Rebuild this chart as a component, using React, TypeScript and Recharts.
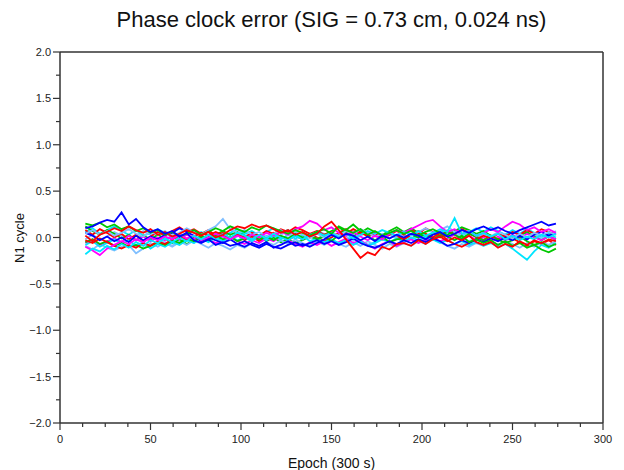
import { LineChart, Line, XAxis, YAxis, ReferenceLine } from "recharts";

// epochs sampled every 4 (300 s) steps
const epochs = [
  14, 18, 22, 26, 30, 34, 38, 42, 46, 50, 54,
  58, 62, 66, 70, 74, 78, 82, 86, 90, 94, 98,
  102, 106, 110, 114, 118, 122, 126, 130, 134, 138, 142,
  146, 150, 154, 158, 162, 166, 170, 174, 178, 182, 186,
  190, 194, 198, 202, 206, 210, 214, 218, 222, 226, 230,
  234, 238, 242, 246, 250, 254, 258, 262, 266, 270, 274,
];

// per-satellite N1 cycle residuals
const blueA = [
  0.10, 0.12, 0.16, 0.19, 0.17, 0.27, 0.14, 0.20, 0.11, 0.06, 0.09,
  0.04, 0.07, 0.01, 0.05, -0.03, -0.06, -0.02, -0.08, -0.05, -0.09, -0.07,
  -0.10, -0.06, -0.09, -0.05, -0.11, -0.08, -0.04, -0.09, -0.07, -0.10, -0.06,
  -0.02, 0.03, -0.01, 0.04, 0.02, -0.03, 0.01, -0.04, 0.02, -0.01, 0.03,
  0.00, 0.04, 0.02, -0.02, 0.03, 0.06, 0.01, 0.04, 0.08, 0.05, 0.09,
  0.12, 0.08, 0.11, 0.07, 0.04, 0.08, 0.11, 0.14, 0.17, 0.13, 0.15,
];
const blueB = [
  0.05, 0.02, -0.03, 0.01, -0.04, 0.00, -0.05, 0.02, -0.03, 0.01, -0.02,
  0.03, 0.05, 0.10, 0.06, 0.02, -0.04, 0.00, -0.03, -0.06, -0.02, -0.07,
  -0.04, -0.08, -0.11, -0.07, -0.10, -0.12, -0.08, -0.05, -0.09, -0.06, -0.03,
  -0.07, -0.04, -0.08, -0.05, -0.01, -0.06, -0.09, -0.11, -0.08, -0.04, -0.07,
  -0.03, -0.06, -0.02, -0.05, -0.01, -0.04, -0.09, -0.07, -0.03, -0.06, -0.02,
  -0.05, -0.01, -0.04, 0.00, -0.03, 0.02, -0.02, 0.03, 0.06, 0.02, 0.05,
];
const redA = [
  0.02, -0.04, 0.03, 0.06, 0.10, 0.07, 0.12, 0.08, 0.05, 0.09, 0.03,
  0.06, 0.01, 0.04, 0.08, 0.05, 0.02, 0.06, 0.00, 0.03, 0.08, 0.12,
  0.10, 0.14, 0.11, 0.13, 0.09, 0.05, 0.08, 0.03, 0.06, 0.01, 0.04,
  0.12, 0.17, 0.08, -0.02, -0.12, -0.22, -0.16, -0.19, -0.10, -0.13, -0.07,
  -0.06, -0.09, -0.03, -0.07, -0.02, 0.01, -0.04, 0.00, -0.03, 0.02, -0.05,
  -0.08, -0.05, -0.11, -0.07, -0.10, -0.04, -0.08, -0.03, -0.06, -0.02, -0.04,
];
const redB = [
  -0.03, -0.06, -0.01, -0.05, -0.09, -0.12, -0.08, -0.11, -0.06, -0.09, -0.04,
  -0.07, -0.02, 0.02, -0.03, 0.01, 0.05, 0.02, 0.06, 0.03, -0.01, 0.04,
  0.00, 0.05, 0.02, 0.07, 0.04, 0.09, 0.06, 0.11, 0.08, 0.04, 0.07,
  0.03, 0.06, 0.01, 0.04, 0.09, 0.05, 0.02, 0.06, 0.01, 0.05, 0.02,
  -0.02, 0.03, 0.07, 0.04, 0.00, 0.05, -0.03, -0.07, -0.10, -0.06, -0.02,
  0.02, -0.01, 0.04, 0.01, 0.06, 0.03, 0.08, 0.04, 0.09, 0.06, 0.03,
];
const redC = [
  0.08, 0.03, 0.09, 0.05, 0.00, 0.04, -0.02, 0.03, -0.04, 0.01, 0.06,
  0.02, 0.07, 0.11, 0.06, 0.09, 0.04, 0.08, 0.02, 0.05, -0.01, 0.03,
  -0.03, 0.01, -0.04, 0.00, 0.05, 0.01, -0.03, 0.02, -0.02, 0.04, 0.00,
  -0.04, 0.00, 0.05, 0.09, 0.04, 0.07, 0.01, 0.05, -0.02, 0.03, 0.07,
  0.03, 0.08, 0.04, 0.10, 0.06, 0.02, 0.07, 0.03, 0.09, 0.05, 0.00,
  -0.03, 0.02, -0.02, 0.03, -0.01, -0.05, -0.09, -0.04, -0.07, -0.03, -0.08,
];
const greenA = [
  0.15, 0.13, 0.16, 0.11, 0.14, 0.09, 0.12, 0.07, 0.10, 0.05, 0.08,
  0.03, 0.06, 0.01, 0.04, 0.08, 0.03, 0.06, 0.10, 0.07, 0.12, 0.09,
  0.06, 0.11, 0.08, 0.13, 0.10, 0.07, 0.04, 0.08, 0.05, 0.02, 0.06,
  0.09, 0.04, 0.12, 0.08, 0.05, 0.09, 0.03, 0.07, 0.02, 0.05, 0.08,
  0.04, 0.07, 0.02, 0.06, 0.09, 0.05, 0.01, -0.03, 0.02, -0.05, -0.02,
  -0.06, -0.03, -0.08, -0.04, -0.09, -0.06, -0.11, -0.08, -0.13, -0.16, -0.12,
];
const greenB = [
  -0.05, -0.02, -0.07, -0.04, -0.09, -0.06, -0.10, -0.08, -0.12, -0.09, -0.05,
  -0.08, -0.03, -0.06, -0.01, -0.04, 0.00, -0.03, 0.02, -0.02, 0.01, -0.04,
  -0.01, 0.03, -0.02, 0.01, -0.03, 0.02, -0.01, 0.04, 0.00, 0.03, -0.02,
  0.01, -0.04, 0.03, 0.08, 0.14, 0.07, 0.02, -0.03, 0.01, -0.05, -0.02,
  -0.01, 0.03, 0.00, 0.04, -0.02, 0.02, 0.06, 0.03, -0.01, 0.04, 0.01,
  -0.03, 0.02, -0.02, -0.06, -0.03, 0.01, -0.04, -0.08, -0.05, -0.10, -0.07,
];
const greenC = [
  0.12, 0.07, 0.03, 0.08, 0.04, -0.01, 0.03, -0.03, 0.02, -0.02, 0.03,
  -0.01, -0.06, -0.02, -0.07, -0.03, 0.02, -0.02, 0.03, 0.07, 0.03, 0.06,
  0.02, -0.03, 0.01, -0.04, 0.00, -0.05, -0.02, -0.06, -0.03, 0.01, -0.02,
  0.03, 0.07, 0.11, 0.06, 0.02, 0.05, 0.10, 0.06, 0.03, 0.07, 0.11,
  0.06, 0.10, 0.05, 0.01, 0.04, 0.00, 0.03, 0.07, 0.11, 0.08, 0.04,
  0.07, 0.02, -0.02, 0.03, -0.01, 0.02, 0.06, 0.01, -0.03, 0.01, -0.02,
];
const cyanA = [
  -0.18, -0.12, -0.15, -0.09, -0.13, -0.07, -0.11, -0.05, -0.09, -0.03, -0.06,
  -0.01, -0.05, 0.00, -0.04, 0.02, -0.02, 0.03, -0.01, 0.04, 0.00, 0.05,
  0.02, -0.02, 0.03, -0.01, 0.04, 0.00, -0.03, 0.02, -0.02, 0.03, 0.06,
  0.02, 0.05, 0.00, 0.04, -0.01, 0.03, 0.07, 0.04, 0.08, 0.05, 0.02,
  0.06, 0.03, 0.07, 0.02, 0.05, 0.09, 0.06, 0.21, 0.04, 0.07, 0.02,
  0.05, 0.01, 0.04, -0.02, 0.02, -0.03, 0.01, -0.02, 0.03, 0.00, 0.04,
];
const cyanB = [
  -0.08, -0.04, -0.10, -0.06, -0.02, -0.07, -0.03, -0.09, -0.05, -0.12, -0.07,
  -0.10, -0.05, -0.08, -0.03, -0.06, -0.01, -0.05, 0.00, -0.04, 0.01, -0.03,
  0.00, -0.04, 0.01, -0.03, 0.02, -0.02, 0.03, -0.01, 0.02, -0.04, -0.01,
  -0.05, -0.02, -0.06, -0.03, -0.08, -0.04, -0.09, -0.06, -0.02, -0.05, -0.01,
  -0.04, 0.00, -0.03, 0.01, -0.02, -0.06, -0.03, -0.07, -0.04, -0.08, -0.05,
  -0.09, -0.06, -0.10, -0.07, -0.12, -0.18, -0.24, -0.15, -0.08, -0.11, -0.06,
];
const cyanC = [
  0.06, 0.10, 0.04, 0.08, 0.12, 0.07, 0.03, 0.08, 0.02, 0.05, 0.09,
  0.05, 0.00, 0.04, -0.02, 0.01, 0.06, 0.02, -0.03, 0.01, 0.05, 0.09,
  0.04, 0.07, 0.02, 0.06, 0.10, 0.05, 0.08, 0.03, -0.01, 0.03, -0.02,
  -0.06, -0.02, -0.07, -0.03, 0.01, -0.04, -0.08, -0.05, -0.01, -0.05, -0.09,
  -0.05, -0.01, 0.03, -0.02, 0.04, 0.08, 0.03, 0.07, 0.02, 0.06, 0.10,
  0.06, 0.11, 0.07, 0.03, 0.08, 0.04, 0.09, 0.05, 0.01, 0.04, 0.00,
];
const magentaA = [
  -0.10, -0.14, -0.19, -0.12, -0.08, -0.04, -0.07, -0.02, -0.05, 0.00, -0.03,
  0.01, -0.02, 0.03, -0.01, 0.02, -0.03, 0.00, 0.04, 0.01, -0.02, 0.02,
  -0.01, 0.03, 0.00, 0.05, 0.02, 0.06, 0.03, 0.09, 0.12, 0.18, 0.15,
  0.08, 0.11, 0.05, 0.02, 0.06, 0.01, -0.03, 0.02, -0.02, 0.04, 0.08,
  0.05, 0.09, 0.13, 0.17, 0.19, 0.12, 0.06, 0.09, 0.04, 0.07, 0.02,
  0.05, 0.09, 0.06, 0.12, 0.17, 0.14, 0.08, 0.11, 0.06, 0.09, 0.05,
];
const magentaB = [
  -0.06, -0.02, -0.08, -0.04, -0.01, -0.05, 0.02, -0.03, 0.01, -0.04, 0.00,
  -0.03, 0.02, -0.02, 0.03, -0.01, -0.05, -0.02, -0.06, -0.03, 0.01, -0.04,
  -0.07, -0.03, -0.06, -0.01, -0.04, 0.01, -0.03, -0.07, -0.10, -0.05, -0.08,
  -0.04, -0.09, -0.05, -0.01, -0.06, -0.03, -0.08, -0.12, -0.07, -0.04, -0.09,
  -0.05, -0.02, -0.06, -0.03, 0.01, -0.04, -0.01, 0.03, -0.02, 0.02, -0.03,
  0.00, -0.04, 0.01, -0.03, 0.03, -0.01, 0.04, 0.00, -0.03, 0.01, -0.02,
];
const skyA = [
  0.04, 0.08, 0.03, 0.07, 0.02, 0.05, 0.09, 0.04, 0.01, 0.06, 0.03,
  0.07, 0.02, 0.05, 0.10, 0.06, 0.03, 0.08, 0.12, 0.20, 0.09, 0.05,
  0.08, 0.03, 0.06, 0.01, 0.04, 0.08, 0.02, 0.06, 0.03, -0.01, 0.04,
  0.00, 0.05, 0.02, 0.07, 0.03, 0.09, 0.05, 0.01, 0.04, -0.01, 0.03,
  0.07, 0.02, 0.06, 0.10, 0.05, 0.08, 0.12, 0.06, 0.03, 0.07, 0.02,
  0.05, 0.01, 0.06, 0.03, -0.01, 0.04, 0.00, 0.05, 0.02, 0.06, 0.03,
];
const skyB = [
  -0.09, -0.13, -0.07, -0.11, -0.14, -0.10, -0.08, -0.17, -0.12, -0.06, -0.10,
  -0.05, -0.09, -0.04, -0.08, -0.03, -0.07, -0.11, -0.06, -0.09, -0.13, -0.08,
  -0.11, -0.06, -0.10, -0.05, -0.08, -0.03, -0.07, -0.02, -0.06, -0.09, -0.04,
  -0.08, -0.03, -0.07, -0.10, -0.05, -0.09, -0.04, -0.08, -0.12, -0.07, -0.10,
  -0.06, -0.09, -0.04, -0.07, -0.02, -0.05, -0.09, -0.12, -0.07, -0.10, -0.06,
  -0.09, -0.04, -0.08, -0.03, -0.07, -0.11, -0.06, -0.10, -0.05, -0.08, -0.04,
];
const skyC = [
  -0.02, 0.03, -0.03, 0.01, 0.06, 0.02, -0.02, 0.02, 0.07, 0.03, -0.01,
  -0.06, -0.10, -0.05, -0.02, -0.06, -0.01, 0.03, -0.02, -0.06, -0.03, 0.01,
  0.05, 0.01, -0.03, 0.02, -0.02, 0.03, 0.07, 0.03, -0.01, 0.02, 0.07,
  0.04, 0.00, 0.05, 0.01, -0.03, 0.02, 0.06, 0.02, -0.02, 0.03, -0.01,
  0.03, -0.02, 0.01, -0.04, -0.01, 0.03, 0.08, 0.04, 0.00, -0.04, -0.01,
  0.04, 0.00, -0.03, 0.02, 0.06, 0.02, -0.02, 0.03, -0.01, 0.03, 0.07,
];

const yTicks = [-2, -1.75, -1.5, -1.25, -1, -0.75, -0.5, -0.25, 0, 0.25, 0.5, 0.75, 1, 1.25, 1.5, 1.75, 2];
const xTicks = [0, 12.5, 25, 37.5, 50, 62.5, 75, 87.5, 100, 112.5, 125, 137.5, 150, 162.5, 175, 187.5, 200, 212.5, 225, 237.5, 250, 262.5, 275, 287.5, 300];

const series = [
  { key: "skyC", values: skyC, color: "#80bfff" },
  { key: "cyanC", values: cyanC, color: "#00e5ff" },
  { key: "greenC", values: greenC, color: "#00c800" },
  { key: "redC", values: redC, color: "#ff0000" },
  { key: "skyB", values: skyB, color: "#80bfff" },
  { key: "magentaB", values: magentaB, color: "#ff00ff" },
  { key: "cyanB", values: cyanB, color: "#00e5ff" },
  { key: "greenB", values: greenB, color: "#00c800" },
  { key: "redB", values: redB, color: "#ff0000" },
  { key: "blueB", values: blueB, color: "#0000ff" },
  { key: "skyA", values: skyA, color: "#80bfff" },
  { key: "magentaA", values: magentaA, color: "#ff00ff" },
  { key: "cyanA", values: cyanA, color: "#00e5ff" },
  { key: "greenA", values: greenA, color: "#00c800" },
  { key: "redA", values: redA, color: "#ff0000" },
  { key: "blueA", values: blueA, color: "#0000ff" },
];

const data = epochs.map((epoch, i) => {
  const row: Record<string, number> = { epoch };
  series.forEach((s) => (row[s.key] = s.values[i]));
  return row;
});

const AXIS = "#333";
const FONT = "'Liberation Sans', Arial, sans-serif";

const fmt = (v: number) => (v < 0 ? "\u2212" + Math.abs(v).toFixed(1) : v.toFixed(1));

const YTick = (props: any) => {
  const { x, y, payload } = props;
  const v = payload.value;
  const major = Math.abs(v * 2 - Math.round(v * 2)) < 1e-6;
  return (
    <g>
      <line x1={x - (major ? 7 : 4)} x2={x} y1={y} y2={y} stroke={AXIS} strokeWidth={1.2} />
      {major && (
        <text x={x - 9} y={y + 4} textAnchor="end" fontSize={11} fontFamily={FONT} fill="#222">
          {fmt(v)}
        </text>
      )}
    </g>
  );
};

const XTick = (props: any) => {
  const { x, y, payload } = props;
  const v = payload.value;
  const major = v % 50 === 0;
  return (
    <g>
      <line x1={x} x2={x} y1={y} y2={y + (major ? 7 : 4)} stroke={AXIS} strokeWidth={1.2} />
      {major && (
        <text x={x} y={y + 20} textAnchor="middle" fontSize={11} fontFamily={FONT} fill="#222">
          {v}
        </text>
      )}
    </g>
  );
};

export default function App() {
  return (
    <div style={{ position: "absolute", left: 0, top: 0, width: 624, height: 470, background: "#fff", fontFamily: FONT, color: "#111" }}>
      <div style={{ position: "absolute", left: 60, width: 543, top: 9, fontSize: 22, lineHeight: "22px", textAlign: "center", whiteSpace: "nowrap" }}>
        Phase clock error (SIG = 0.73 cm, 0.024 ns)
      </div>
      <LineChart width={624} height={470} data={data} margin={{ top: 52, right: 21, bottom: 17, left: 10 }}>
        <XAxis
          dataKey="epoch"
          type="number"
          domain={[0, 300]}
          ticks={xTicks}
          interval={0}
          height={30}
          tickSize={0}
          tickMargin={0}
          tickLine={false}
          tick={<XTick />}
          axisLine={{ stroke: AXIS, strokeWidth: 1.5 }}
        />
        <YAxis
          type="number"
          domain={[-2, 2]}
          ticks={yTicks}
          interval={0}
          width={50}
          tickSize={0}
          tickMargin={0}
          tickLine={false}
          tick={<YTick />}
          axisLine={{ stroke: AXIS, strokeWidth: 1.5 }}
        />
        <ReferenceLine y={2} stroke={AXIS} strokeWidth={1.5} />
        <ReferenceLine x={300} stroke={AXIS} strokeWidth={1.5} />
        {series.map((s) => (
          <Line
            key={s.key}
            dataKey={s.key}
            type="linear"
            stroke={s.color}
            strokeWidth={1.8}
            dot={false}
            isAnimationActive={false}
          />
        ))}
      </LineChart>
      <div style={{ position: "absolute", left: 60, width: 543, top: 456, fontSize: 14, lineHeight: "14px", textAlign: "center", whiteSpace: "nowrap" }}>
        Epoch (300 s)
      </div>
      <div
        style={{
          position: "absolute",
          left: 19,
          top: 238,
          fontSize: 13,
          lineHeight: "13px",
          whiteSpace: "nowrap",
          transform: "translate(-50%, -50%) rotate(-90deg)",
        }}
      >
        N1 cycle
      </div>
    </div>
  );
}
